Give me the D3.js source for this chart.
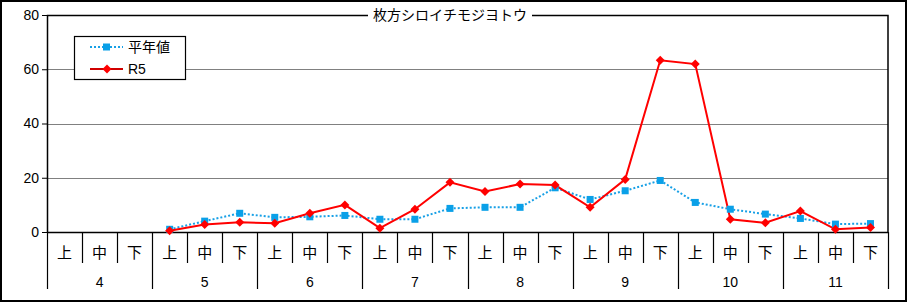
<!DOCTYPE html>
<html>
<head>
<meta charset="utf-8">
<script src="https://cdn.jsdelivr.net/npm/d3@7"></script>
<style>
  body { margin: 0; background: #fff; }
  text { font-family: "Liberation Sans", "Noto Sans CJK JP", sans-serif; }
</style>
</head>
<body>
<script>
// 旬ごと（上・中・下）のデータ
var months = ["4", "5", "6", "7", "8", "9", "10", "11"];
var dekads = ["上", "中", "下"];
var yTicks = [0, 20, 40, 60, 80];
var title = "枚方シロイチモジヨトウ";

// 4月はデータなし (null)
var normal = [null, null, null,
  1.0, 4.0, 6.9,
  5.4, 5.6, 6.1,
  4.7, 4.7, 8.7,
  9.1, 9.1, 16.3,
  12.0, 15.2, 19.0,
  10.9, 8.4, 6.6,
  5.0, 2.9, 3.1];
var r5 = [null, null, null,
  0.5, 2.8, 3.6,
  3.2, 6.9, 10.0,
  1.4, 8.4, 18.3,
  14.9, 17.7, 17.3,
  9.1, 19.4, 63.3,
  61.9, 4.7, 3.4,
  7.7, 1.0, 1.7];

var W = 908, H = 303;
var margin = { top: 15, left: 47 };
var width = 888 - margin.left, height = 232 - margin.top;

var svg = d3.select("body").append("svg")
  .attr("width", W).attr("height", H);

// outer border
svg.append("rect")
  .attr("x", 1).attr("y", 1).attr("width", W - 3).attr("height", H - 3)
  .attr("fill", "#fff").attr("stroke", "#000").attr("stroke-width", 2);

var g = svg.append("g")
  .attr("transform", `translate(${margin.left}, ${margin.top})`);

var cats = [];
months.forEach(m => dekads.forEach(d => cats.push(m + "-" + d)));

var x = d3.scaleBand().domain(cats).range([0, width]);
var y = d3.scaleLinear().domain([0, 80]).range([height, 0]);

// gridlines
g.selectAll(".grid").data(yTicks.filter(t => t > 0 && t < 80)).enter()
  .append("line")
  .attr("x1", 0).attr("x2", width)
  .attr("y1", d => Math.round(y(d)) + 0.5).attr("y2", d => Math.round(y(d)) + 0.5)
  .attr("stroke", "#808080").attr("stroke-width", 1.2);

// frame (top, left, right)
g.append("path")
  .attr("d", `M0.5,${height}V0.5H${width}V${height}`)
  .attr("fill", "none").attr("stroke", "#000").attr("stroke-width", 1.5);

// y axis
var yAxis = g.append("g")
  .call(d3.axisLeft(y).tickValues(yTicks).tickSize(5).tickSizeOuter(0));
yAxis.select(".domain").remove();
yAxis.selectAll(".tick line").attr("stroke", "#000");
yAxis.selectAll("text").attr("font-size", 14).attr("fill", "#000").attr("x", -8);

// x axis baseline
g.append("line")
  .attr("x1", 0).attr("x2", width).attr("y1", height + 0.5).attr("y2", height + 0.5)
  .attr("stroke", "#000").attr("stroke-width", 1.5);

// category ticks
var bounds = d3.range(cats.length + 1);
g.selectAll(".ctick").data(bounds).enter().append("line")
  .attr("x1", i => Math.round(i * x.step()) + 0.5)
  .attr("x2", i => Math.round(i * x.step()) + 0.5)
  .attr("y1", height)
  .attr("y2", i => i % 3 === 0 ? height + 57 : height + 31)
  .attr("stroke", "#000").attr("stroke-width", 1.2);

g.selectAll(".dlabel").data(cats).enter().append("text")
  .attr("x", d => x(d) + x.bandwidth() / 2)
  .attr("y", height + 26)
  .attr("text-anchor", "middle")
  .attr("font-size", 15)
  .attr("font-family", "Noto Sans CJK JP")
  .text(d => d.split("-")[1]);

g.selectAll(".mlabel").data(months).enter().append("text")
  .attr("x", d => x(d + "-中") + x.bandwidth() / 2)
  .attr("y", height + 55)
  .attr("text-anchor", "middle")
  .attr("font-size", 14)
  .text(d => d);

// lines
function series(vals) {
  return vals.map((v, i) => ({ c: cats[i], v: v })).filter(d => d.v !== null);
}
var line = d3.line()
  .x(d => x(d.c) + x.bandwidth() / 2)
  .y(d => y(d.v));

var nData = series(normal), rData = series(r5);

g.append("path").datum(nData)
  .attr("fill", "none").attr("stroke", "#18a0e6").attr("stroke-width", 2)
  .attr("stroke-dasharray", "2,2").attr("d", line);

g.append("path").datum(rData)
  .attr("fill", "none").attr("stroke", "#ff0000").attr("stroke-width", 2)
  .attr("d", line);

g.selectAll(".sq").data(nData).enter().append("rect")
  .attr("x", d => x(d.c) + x.bandwidth() / 2 - 3.5)
  .attr("y", d => y(d.v) - 3.5)
  .attr("width", 7).attr("height", 7)
  .attr("fill", "#0aa0e8");

var diamond = "M0,-4.5L4.5,0L0,4.5L-4.5,0Z";
g.selectAll(".dm").data(rData).enter().append("path")
  .attr("d", diamond)
  .attr("transform", d => `translate(${x(d.c) + x.bandwidth() / 2}, ${y(d.v)})`)
  .attr("fill", "#ff0000");

// title
var titleBg = svg.append("rect").attr("fill", "#fff");
var tt = svg.append("text")
  .attr("x", 450).attr("y", 20)
  .attr("text-anchor", "middle")
  .attr("font-size", 14)
  .attr("font-family", "Noto Sans CJK JP")
  .text(title);
var bb = tt.node().getBBox();
titleBg.attr("x", bb.x - 5).attr("y", 8).attr("width", bb.width + 10).attr("height", 14);

// legend
var leg = svg.append("g");
leg.append("rect")
  .attr("x", 74.5).attr("y", 36.5).attr("width", 111).attr("height", 43)
  .attr("fill", "#fff").attr("stroke", "#000").attr("stroke-width", 1.2);
var legItems = [
  { name: "平年値", color: "#18a0e6", dash: "2,2", mark: "sq" },
  { name: "R5", color: "#d00000", dash: null, mark: "dm" }
];
legItems.forEach((it, i) => {
  var ly = 47 + i * 22;
  leg.append("line")
    .attr("x1", 90).attr("x2", 123).attr("y1", ly).attr("y2", ly)
    .attr("stroke", it.color).attr("stroke-width", 2)
    .attr("stroke-dasharray", it.dash);
  if (it.mark === "sq") {
    leg.append("rect").attr("x", 103).attr("y", ly - 3.5).attr("width", 7).attr("height", 7)
      .attr("fill", "#0aa0e8");
  } else {
    leg.append("path").attr("d", diamond)
      .attr("transform", `translate(107, ${ly})`).attr("fill", "#ff0000");
  }
  leg.append("text")
    .attr("x", 128).attr("y", ly + 5)
    .attr("font-size", 14)
    .attr("font-family", i === 0 ? "Noto Sans CJK JP" : null)
    .text(it.name);
});
</script>
</body>
</html>
